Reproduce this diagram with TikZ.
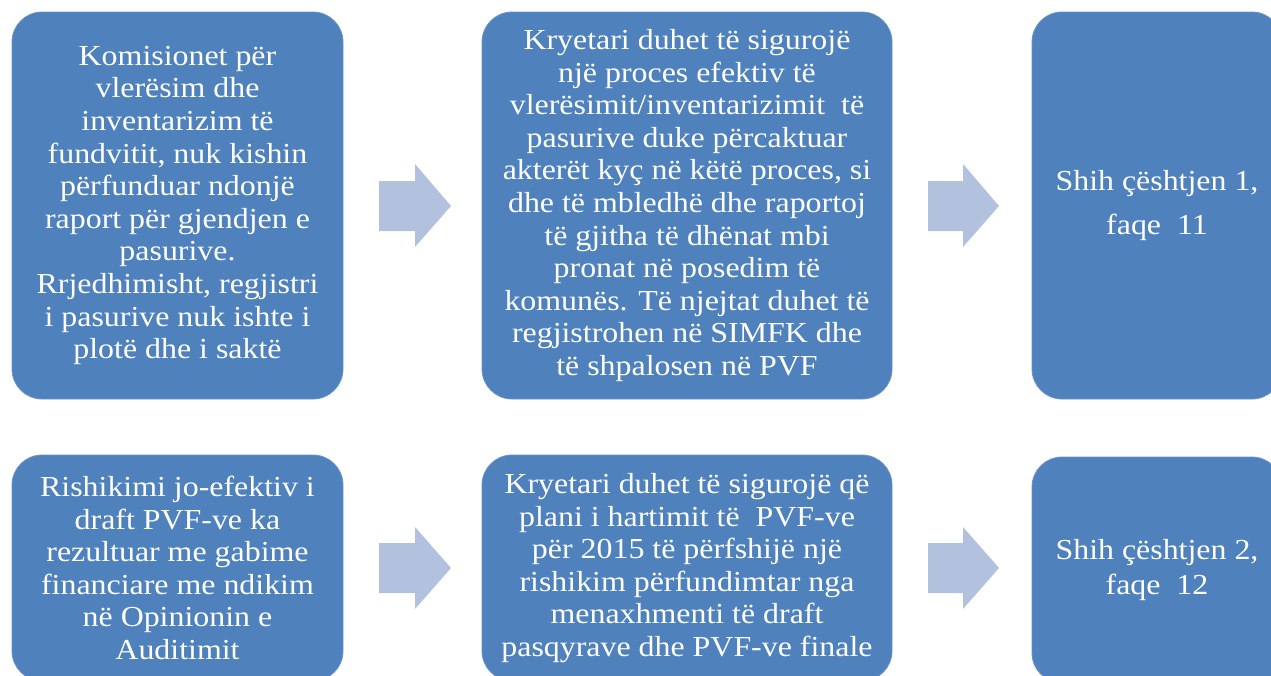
\documentclass[tikz,border=0pt]{standalone}
\usepackage{fontspec}
\setmainfont{Liberation Serif}[FakeStretch=1.1]
\definecolor{boxblue}{HTML}{4F81BD}
\definecolor{arrowblue}{HTML}{B1C1DE}
\begin{document}
\begin{tikzpicture}[x=1pt,y=-1pt,
  box/.style={fill=boxblue, draw=boxblue!85!white, line width=0.8pt, rounded corners=30pt,
    text=white, align=center, inner sep=0pt,
    font=\fontsize{29pt}{32.6pt}\selectfont},
  blockarrow/.style={fill=arrowblue, draw=none}]
\clip (0,0) rectangle (1271,675);
% top row
\node[box, minimum width=331pt, minimum height=387pt] (t1) at (177.5,205.5)
 {Komisionet për\\vlerësim dhe\\inventarizim të\\fundvitit, nuk kishin\\përfunduar ndonjë\\raport për gjendjen e\\pasurive.\\Rrjedhimisht, regjistri\\i pasurive nuk ishte i\\plotë dhe i saktë};
\node[box, minimum width=410pt, minimum height=387pt] (t2) at (687,205.5)
 {Kryetari duhet të sigurojë\\një proces efektiv të\\vlerësimit/inventarizimit\ \ të\\pasurive duke përcaktuar\\akterët kyç në këtë proces, si\\dhe të mbledhë dhe raportoj\\të gjitha të dhënat mbi\\pronat në posedim të\\komunës. Të njejtat duhet të\\regjistrohen në SIMFK dhe\\të shpalosen në PVF};
\node[box, minimum width=250pt, minimum height=387pt, font=\fontsize{29pt}{44pt}\selectfont] (t3) at (1157,205.5)
 {Shih çështjen 1,\\faqe\ \ 11};
% bottom row
\node[box, minimum width=331pt, minimum height=226pt] (b1) at (177.5,568)
 {Rishikimi jo-efektiv i\\draft PVF-ve ka\\rezultuar me gabime\\financiare me ndikim\\në Opinionin e\\Auditimit};
\node[box, minimum width=410pt, minimum height=226pt] (b2) at (687,568)
 {Kryetari duhet të sigurojë që\\plani i hartimit të\ \ PVF-ve\\për 2015 të përfshijë një\\rishikim përfundimtar nga\\menaxhmenti të draft\\pasqyrave dhe PVF-ve finale};
\node[box, minimum width=250pt, minimum height=226pt, font=\fontsize{29pt}{35pt}\selectfont] (b3) at (1157,570)
 {Shih çështjen 2,\\faqe\ \ 12};
% block arrows
\fill[blockarrow] (379,181) -- (415,181) -- (415,164) -- (451,206) -- (415,247) -- (415,231) -- (379,231) -- cycle;
\fill[blockarrow] (928,181) -- (963,181) -- (963,164) -- (999,206) -- (963,247) -- (963,231) -- (928,231) -- cycle;
\fill[blockarrow] (379,543) -- (415,543) -- (415,527) -- (451,568) -- (415,609) -- (415,593) -- (379,593) -- cycle;
\fill[blockarrow] (928,543) -- (963,543) -- (963,527) -- (999,568) -- (963,609) -- (963,593) -- (928,593) -- cycle;
\end{tikzpicture}
\end{document}
